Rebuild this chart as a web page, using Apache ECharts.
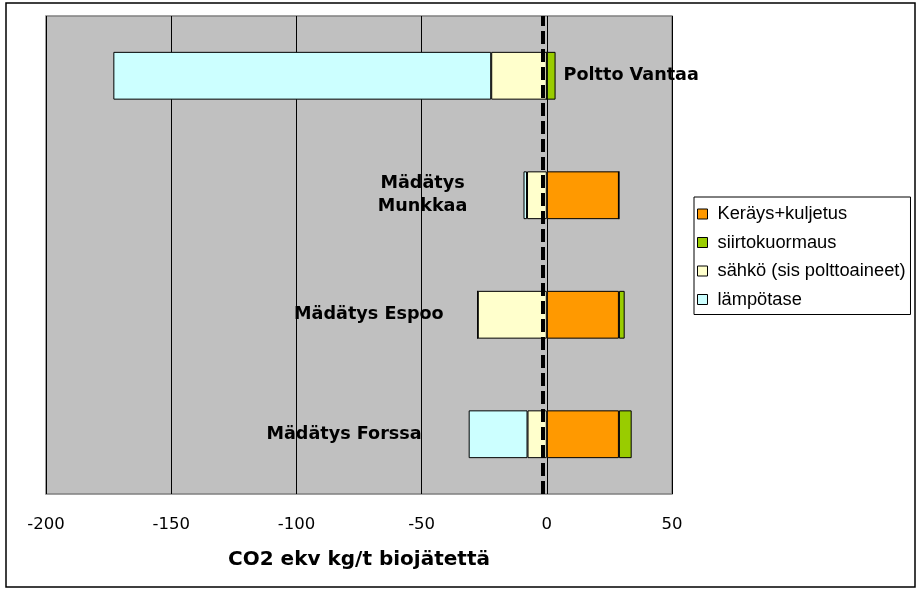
<!DOCTYPE html>
<html>
<head>
<meta charset="utf-8">
<script src="https://cdn.jsdelivr.net/npm/echarts@6/dist/echarts.min.js"></script>
<style>html,body{margin:0;padding:0;background:#fff}#c{width:923px;height:593px}</style>
</head>
<body>
<div id="c"></div>
<script>
// Categories listed bottom to top
const categories = ['Mädätys Forssa', 'Mädätys Espoo', 'Mädätys\nMunkkaa', 'Poltto Vantaa'];
const seriesNames = ['Keräys+kuljetus', 'siirtokuormaus', 'sähkö (sis polttoaineet)', 'lämpötase'];
const kerays = [28.8, 28.8, 28.8, 0];
const siirto = [5.1, 2.3, 0, 3.5];
const sahko = [-7.7, -27.6, -7.9, -22.2];
const lampo = [-23.5, 0, -1.4, -150.9];
const xTicks = [-200, -150, -100, -50, 0, 50];
const zeroLineValue = -1.5;

const colors = ['#FF9900', '#99CC00', '#FFFFCC', '#CCFFFF'];
const labelFont = { fontFamily: 'DejaVu Sans', fontWeight: 'bold', fontSize: 17.6, color: '#000', lineHeight: 23 };

function withLabels(values, labelMap) {
  return values.map((v, i) => {
    if (labelMap[i]) {
      return { value: v, label: Object.assign({ show: true, formatter: categories[i] }, labelFont, labelMap[i]) };
    }
    return v;
  });
}

const chart = echarts.init(document.getElementById('c'), null, { renderer: 'canvas' });
chart.setOption({
  animation: false,
  backgroundColor: '#fff',
  graphic: [{
    type: 'rect', shape: { x: 6, y: 3, width: 909, height: 584 },
    style: { fill: 'none', stroke: '#000', lineWidth: 1.5 }, z: 100, silent: true
  }],
  grid: {
    left: 46, top: 16, width: 626, height: 478,
    show: true, backgroundColor: '#C0C0C0', borderColor: '#808080', borderWidth: 1.5
  },
  legend: {
    orient: 'vertical', left: 694, top: 197,
    data: seriesNames,
    backgroundColor: '#fff', borderColor: '#000', borderWidth: 1,
    padding: [8, 5, 6, 3],
    itemWidth: 10, itemHeight: 10, itemGap: 10.5,
    icon: 'rect',
    itemStyle: { borderColor: '#000', borderWidth: 1 },
    textStyle: { fontFamily: 'Liberation Sans', fontSize: 18.3, color: '#000', lineHeight: 18, padding: [0, 0, 0, 5] }
  },
  xAxis: {
    type: 'value', min: xTicks[0], max: xTicks[xTicks.length - 1], interval: 50,
    axisLine: { show: false }, axisTick: { show: false },
    splitLine: { show: true, lineStyle: { color: '#000', width: 1 } },
    axisLabel: { margin: 22, fontFamily: 'DejaVu Sans', fontSize: 16.5, color: '#000' },
    name: 'CO2 ekv kg/t biojätettä', nameLocation: 'middle', nameGap: 56,
    nameTextStyle: { fontFamily: 'DejaVu Sans', fontWeight: 'bold', fontSize: 20, color: '#000' }
  },
  yAxis: {
    type: 'category', data: categories,
    axisLine: { show: false }, axisTick: { show: false }, axisLabel: { show: false },
    splitLine: { show: false }
  },
  series: [
    { name: seriesNames[0], type: 'bar', stack: 's', barWidth: '40%', data: kerays,
      itemStyle: { color: colors[0], borderColor: '#000', borderWidth: 1 } },
    { name: seriesNames[1], type: 'bar', stack: 's', data: withLabels(siirto, { 3: { position: 'right', distance: 8 } }),
      itemStyle: { color: colors[1], borderColor: '#000', borderWidth: 1 } },
    { name: seriesNames[2], type: 'bar', stack: 's', data: withLabels(sahko, { 1: { position: 'left', distance: 34 } }),
      itemStyle: { color: colors[2], borderColor: '#000', borderWidth: 1 } },
    { name: seriesNames[3], type: 'bar', stack: 's',
      data: withLabels(lampo, { 0: { position: 'left', distance: 47 }, 2: { position: 'left', distance: 101, align: 'center' } }),
      itemStyle: { color: colors[3], borderColor: '#000', borderWidth: 1 },
      markLine: {
        silent: true, symbol: 'none', label: { show: false },
        lineStyle: { color: '#000', width: 4, type: [13, 5] },
        data: [{ xAxis: zeroLineValue }]
      }
    }
  ]
});
</script>
</body>
</html>
